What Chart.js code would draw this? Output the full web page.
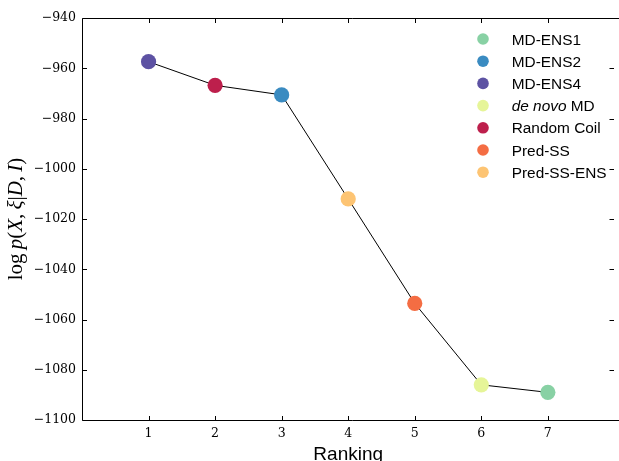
<!DOCTYPE html>
<html><head><meta charset="utf-8">
<script src="https://cdn.jsdelivr.net/npm/chart.js@4/dist/chart.umd.min.js"></script>
<style>html,body{margin:0;padding:0;background:#fff;overflow:hidden}#wrap{width:619px;height:461px;overflow:hidden}</style>
</head><body><div id="wrap"><canvas id="c" width="622" height="461"></canvas></div>
<script>
const rankings = [1, 2, 3, 4, 5, 6, 7];
const logProb = [-957.4, -966.8, -970.6, -1012.0, -1053.6, -1086.0, -1089.0];
const methods = ['MD-ENS4', 'Random Coil', 'MD-ENS2', 'Pred-SS-ENS', 'Pred-SS', 'de novo MD', 'MD-ENS1'];
const methodColors = ['#5d52a3', '#bd1f4c', '#3a8bc1', '#fdc473', '#f46d43', '#e6f598', '#88d1a4'];
const legendOrder = ['MD-ENS1', 'MD-ENS2', 'MD-ENS4', 'de novo MD', 'Random Coil', 'Pred-SS', 'Pred-SS-ENS'];
const xTicks = [1, 2, 3, 4, 5, 6, 7];
const yTicks = [-1100, -1080, -1060, -1040, -1020, -1000, -980, -960, -940];
const xTitle = 'Ranking';
const yTitleParts = [['log', false], ['\u2009', false], ['p', true], ['(', false], ['X', true], [',', false], ['\u2009', false], ['\u03BE', true], ['|', false], ['D', true], [',', false], ['\u2009', false], ['I', true], [')', false]];

const lineData = rankings.map((r, i) => ({x: r, y: logProb[i]}));
const datasets = [{
  label: '_line', data: lineData, borderColor: '#000', borderWidth: 1, pointRadius: 0,
  showLine: true, fill: false, tension: 0, order: 10
}];
methods.forEach((m, i) => {
  datasets.push({
    label: m, data: [{x: rankings[i], y: logProb[i]}], backgroundColor: methodColors[i],
    borderColor: methodColors[i], borderWidth: 0, pointRadius: 7.6, pointHoverRadius: 7.6, order: 1
  });
});

const framePlugin = {
  id: 'frame',
  afterDraw(chart) {
    const {ctx, chartArea: a, scales: {x, y}} = chart;
    ctx.save();
    ctx.strokeStyle = '#000';
    ctx.lineWidth = 1;
    const L = Math.round(a.left) + 0.5, T = Math.round(a.top) + 0.5, B = Math.round(a.bottom) + 0.5, R = Math.round(a.right);
    ctx.beginPath();
    ctx.moveTo(chart.width + 2, T); ctx.lineTo(L, T); ctx.lineTo(L, B); ctx.lineTo(chart.width + 2, B);
    xTicks.forEach(v => {
      const px = Math.round(x.getPixelForValue(v)) + 0.5;
      ctx.moveTo(px, B); ctx.lineTo(px, B - 4.5);
      ctx.moveTo(px, T); ctx.lineTo(px, T + 4.5);
    });
    yTicks.forEach(v => {
      const py = Math.round(y.getPixelForValue(v)) + 0.5;
      ctx.moveTo(L, py); ctx.lineTo(L + 4.5, py);
      ctx.moveTo(R, py); ctx.lineTo(R - 4.5, py);
    });
    ctx.stroke();

    // x title, centred on the axes
    ctx.fillStyle = '#000';
    ctx.font = '19px "Liberation Sans", Arial, sans-serif';
    ctx.textAlign = 'center';
    ctx.textBaseline = 'alphabetic';
    ctx.fillText(xTitle, (a.left + a.right) / 2, 460);

    // y title (mixed upright / italic)
    const fs = 21;
    const fontUp = fs + 'px "Liberation Serif", "DejaVu Serif", serif';
    const fontIt = 'italic ' + fs + 'px "Liberation Serif", "DejaVu Serif", serif';
    const widths = yTitleParts.map(p => { ctx.font = p[1] ? fontIt : fontUp; return ctx.measureText(p[0]).width; });
    const total = widths.reduce((s, w) => s + w, 0);
    ctx.translate(22, (a.top + a.bottom) / 2);
    ctx.rotate(-Math.PI / 2);
    ctx.textAlign = 'left';
    let cx = -total / 2;
    yTitleParts.forEach((p, i) => {
      ctx.font = p[1] ? fontIt : fontUp;
      ctx.fillText(p[0], cx, 0);
      cx += widths[i];
    });
    ctx.restore();

    // legend
    ctx.save();
    const lx = 483, ly0 = 39, dy = 22.2;
    const lf = '15.4px "Liberation Sans", Arial, sans-serif';
    legendOrder.forEach((name, i) => {
      const ds = chart.data.datasets.find(d => d.label === name);
      const yy = ly0 + i * dy;
      ctx.fillStyle = ds.backgroundColor;
      ctx.beginPath(); ctx.arc(lx, yy, 5.8, 0, Math.PI * 2); ctx.fill();
      ctx.fillStyle = '#000';
      ctx.textAlign = 'left';
      ctx.textBaseline = 'alphabetic';
      const base = yy + 5.5;
      if (name.startsWith('de novo')) {
        ctx.font = 'italic ' + lf;
        ctx.fillText('de novo', 511.7, base);
        const w = ctx.measureText('de novo ').width;
        ctx.font = lf;
        ctx.fillText(name.slice(8), 511.7 + w, base);
      } else {
        ctx.font = lf;
        ctx.fillText(name, 511.7, base);
      }
    });
    ctx.restore();
  }
};

new Chart(document.getElementById('c'), {
  type: 'scatter',
  data: {datasets},
  options: {
    responsive: false,
    animation: false,
    events: [],
    layout: {padding: {left: 0, right: 2, top: 18, bottom: 0}},
    plugins: {legend: {display: false}, tooltip: {enabled: false}},
    scales: {
      x: {
        type: 'linear', min: 0, max: 8,
        afterFit(s) { s.height = 41; },
        grid: {display: false, drawTicks: false},
        border: {display: false},
        ticks: {
          stepSize: 1, autoSkip: false, maxRotation: 0, padding: 6,
          color: '#000', font: {family: '"DejaVu Serif", serif', size: 12.5},
          callback: v => xTicks.includes(v) ? String(v) : ''
        }
      },
      y: {
        type: 'linear', min: -1100, max: -940,
        afterFit(s) { s.width = 82; },
        grid: {display: false, drawTicks: false},
        border: {display: false},
        ticks: {
          stepSize: 20, autoSkip: false, padding: 6,
          color: '#000', font: {family: '"DejaVu Serif", serif', size: 12.5},
          callback: v => yTicks.includes(v) ? '\u2212' + Math.abs(v) : ''
        }
      }
    }
  },
  plugins: [framePlugin]
});
</script></body></html>
